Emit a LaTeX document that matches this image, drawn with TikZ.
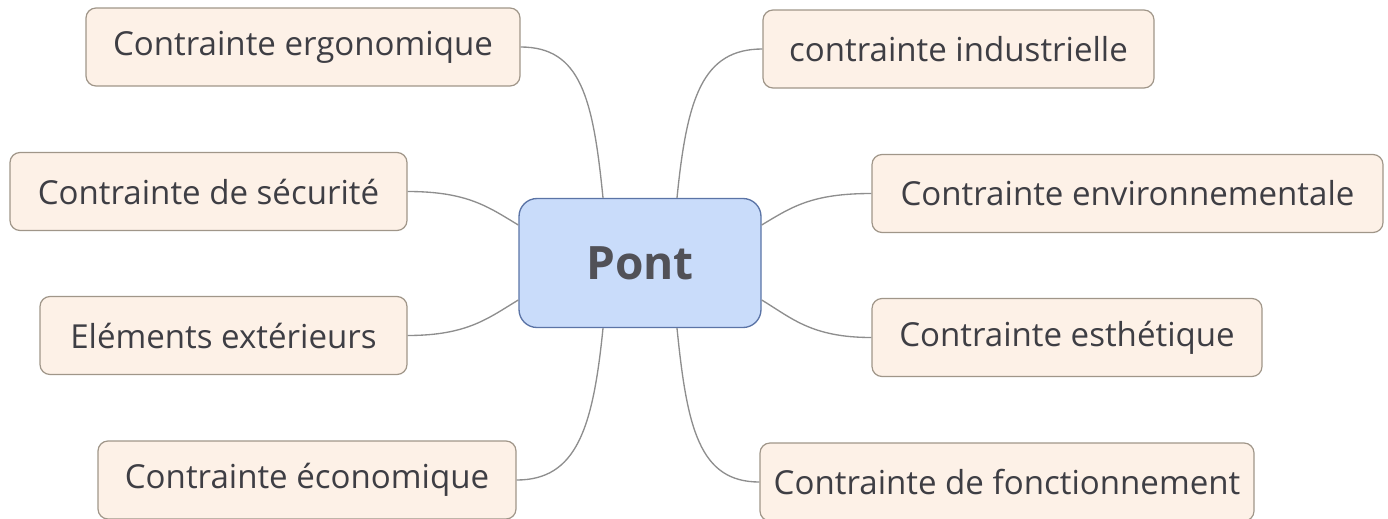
\documentclass[tikz,border=0pt]{standalone}
\usepackage{fontspec}
\setmainfont{Open Sans}
\usetikzlibrary{positioning,calc}
\definecolor{topicfill}{HTML}{FDF1E7}
\definecolor{topicline}{HTML}{A09689}
\definecolor{pontfill}{HTML}{C9DCFA}
\definecolor{pontline}{HTML}{5B74A6}
\definecolor{linkgrey}{HTML}{8E8E8E}
\definecolor{txtgrey}{HTML}{3E3E44}
\begin{document}
\begin{tikzpicture}[x=0.75pt,y=0.75pt,yscale=-1,xscale=1,
    topic/.style={draw=topicline, fill=topicfill, rounded corners=7.5pt, line width=0.9pt,
        minimum height=58.5pt, inner sep=0pt, text=txtgrey, font=\fontsize{24.8}{29}\selectfont},
    link/.style={draw=linkgrey, line width=1pt}]
        \useasboundingbox (0,0) rectangle (1388,518);

        %Central topic
        \node [draw=pontline, fill=pontfill, rounded corners=13.5pt, line width=1pt,
            minimum width=181.5pt, minimum height=96.75pt, text=txtgrey!90,
            font=\fontsize{34.5}{40}\selectfont\bfseries] (pont) at (640,263) {Pont};

        %Left topics
        \node [topic, minimum width=325.5pt] (ergo) at (303,47) {Contrainte ergonomique};
        \node [topic, minimum width=297.75pt] (secu) at (208.5,191.5) {Contrainte de sécurité};
        \node [topic, minimum width=275.25pt] (ext) at (223.5,335.5) {Eléments extérieurs};
        \node [topic, minimum width=313.5pt] (eco) at (307,480) {Contrainte économique};

        %Right topics
        \node [topic, minimum width=293.25pt] (indus) at (958.5,49) {contrainte industrielle};
        \node [topic, minimum width=383.25pt] (envir) at (1127.5,193.5) {Contrainte environnementale};
        \node [topic, minimum width=292.5pt] (esth) at (1067,337.5) {Contrainte esthétique};
        \node [topic, minimum width=370.5pt] (fonct) at (1007,482) {Contrainte de fonctionnement};

        %Connectors
        \draw [link] (ergo.east) .. controls +(60,0) and +(-10,-100) .. ($(pont.north)+(-37,0)$);
        \draw [link] (secu.east) .. controls +(60,0) and +(-30,-18) .. ($(pont.west)+(0,-38)$);
        \draw [link] (ext.east) .. controls +(60,0) and +(-30,18) .. ($(pont.west)+(0,37)$);
        \draw [link] (eco.east) .. controls +(60,0) and +(-10,100) .. ($(pont.south)+(-37,0)$);
        \draw [link] (indus.west) .. controls +(-60,0) and +(10,-100) .. ($(pont.north)+(37,0)$);
        \draw [link] (envir.west) .. controls +(-60,0) and +(30,-18) .. ($(pont.east)+(0,-38)$);
        \draw [link] (esth.west) .. controls +(-60,0) and +(30,18) .. ($(pont.east)+(0,37)$);
        \draw [link] (fonct.west) .. controls +(-60,0) and +(10,100) .. ($(pont.south)+(37,0)$);
\end{tikzpicture}
\end{document}
